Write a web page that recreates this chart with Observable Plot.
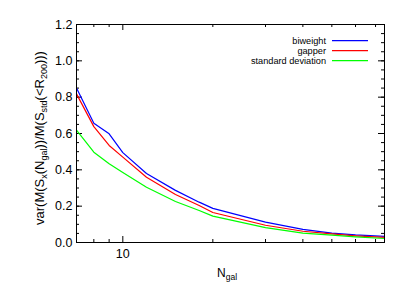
<!DOCTYPE html>
<html>
<head>
<meta charset="utf-8">
<script src="https://cdn.jsdelivr.net/npm/d3@7"></script>
<script src="https://cdn.jsdelivr.net/npm/@observablehq/plot@0.6"></script>
<style>
  html, body { margin: 0; padding: 0; background: white; }
</style>
</head>
<body>
<div id="chart"></div>
<script>
// Data
const nGal = [7, 8, 9, 10, 12, 15, 18, 20, 30, 40, 50, 60, 75];
const biweight = [0.850, 0.657, 0.598, 0.495, 0.380, 0.287, 0.222, 0.188, 0.112, 0.072, 0.052, 0.042, 0.034];
const gapper   = [0.818, 0.638, 0.534, 0.470, 0.359, 0.264, 0.204, 0.165, 0.095, 0.062, 0.047, 0.037, 0.028];
const stdDev   = [0.618, 0.497, 0.433, 0.385, 0.304, 0.226, 0.176, 0.145, 0.082, 0.052, 0.041, 0.031, 0.022];
const seriesNames = ["biweight", "gapper", "standard deviation"];
const seriesColors = ["#0000ff", "#ff0000", "#00ff00"];
const yTicks = [0, 0.2, 0.4, 0.6, 0.8, 1.0, 1.2];
const yMinor = d3.range(0, 1.2001, 0.05);
const xMajor = [10];
const xMinor = [8, 9, 20, 30, 40, 50, 60, 70];

const seriesValues = [biweight, gapper, stdDev];
const rows = seriesNames.flatMap((s, i) => nGal.map((n, j) => ({series: s, n, v: seriesValues[i][j]})));

const W = 407, H = 291;
const mL = 76, mR = 23, mT = 24, mB = 49;
const pW = W - mL - mR, pH = H - mT - mB;
const font = "'Liberation Sans', Arial, sans-serif";

const svg = Plot.plot({
  width: W, height: H,
  marginLeft: mL, marginRight: mR, marginTop: mT, marginBottom: mB,
  style: {fontFamily: font, fontSize: "12.5px", background: "white", color: "black"},
  x: {type: "log", domain: [7, 75]},
  y: {domain: [0, 1.2]},
  color: {domain: seriesNames, range: seriesColors},
  marks: [
    Plot.axisY({ticks: yTicks, tickFormat: d3.format(".1f"), tickSize: 0, tickPadding: 4, label: null}),
    Plot.axisX({ticks: xMajor, tickFormat: d => String(d), tickSize: 0, tickPadding: 7, label: null}),
    // inward ticks: bottom / top
    Plot.tickX(xMinor, {x: d => d, insetTop: pH - 3, stroke: "black"}),
    Plot.tickX(xMinor, {x: d => d, insetBottom: pH - 3, stroke: "black"}),
    Plot.tickX(xMajor, {x: d => d, insetTop: pH - 6, stroke: "black"}),
    Plot.tickX(xMajor, {x: d => d, insetBottom: pH - 6, stroke: "black"}),
    // inward ticks: left / right
    Plot.tickY(yMinor, {y: d => d, insetRight: pW - 3, stroke: "black"}),
    Plot.tickY(yMinor, {y: d => d, insetLeft: pW - 3, stroke: "black"}),
    Plot.tickY(yTicks, {y: d => d, insetRight: pW - 6, stroke: "black"}),
    Plot.tickY(yTicks, {y: d => d, insetLeft: pW - 6, stroke: "black"}),
    Plot.line(rows, {x: "n", y: "v", z: "series", stroke: "series", strokeWidth: 1.2}),
    Plot.frame({stroke: "black"})
  ]
});

const root = d3.select(svg);

// y-axis label with subscripts
const yl = root.append("text")
  .attr("transform", `translate(39,138) rotate(-90)`)
  .attr("text-anchor", "middle")
  .attr("font-family", font)
  .attr("font-size", 13)
  .attr("fill", "black")
  .attr("dy", "0.35em");
const parts = [["var(M(S", 0], ["x", 1], ["(N", 0], ["gal", 1], ["))/M(S", 0], ["std", 1], ["(<R", 0], ["200", 1], [")))", 0]];
let prevSub = false;
parts.forEach(([t, sub]) => {
  const ts = yl.append("tspan").text(t);
  if (sub) { ts.attr("font-size", 9).attr("dy", 3.5); prevSub = true; }
  else if (prevSub) { ts.attr("dy", -3.5); prevSub = false; }
});

// x-axis label
const xl = root.append("text")
  .attr("x", 217)
  .attr("y", 277)
  .attr("text-anchor", "start")
  .attr("font-family", font)
  .attr("font-size", 12)
  .attr("fill", "black");
xl.append("tspan").text("N");
xl.append("tspan").text("gal").attr("font-size", 8.5).attr("dy", 3);

// legend
seriesNames.forEach((s, i) => {
  const y = 40.7 + i * 10;
  root.append("text")
    .attr("x", 326).attr("y", y).attr("dy", "0.35em")
    .attr("text-anchor", "end")
    .attr("font-family", font).attr("font-size", 9.2).attr("fill", "black")
    .text(s);
  root.append("line")
    .attr("x1", 332).attr("x2", 368).attr("y1", y).attr("y2", y)
    .attr("stroke", seriesColors[i]).attr("stroke-width", 1.2);
});

document.getElementById("chart").appendChild(svg);
</script>
</body>
</html>
